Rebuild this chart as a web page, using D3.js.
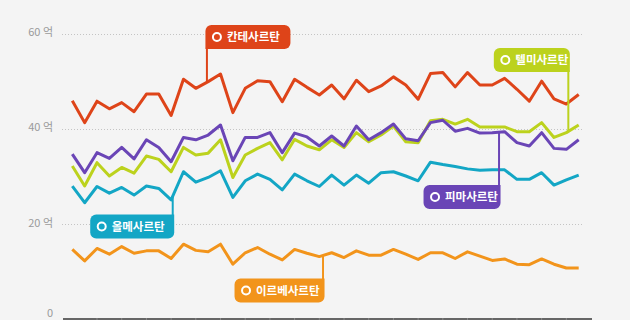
<!DOCTYPE html>
<html>

<head>
    <meta charset="utf-8">
    <script src="https://d3js.org/d3.v7.min.js" charset="utf-8"></script>
    <style>
        body { margin: 0; background: #f4f4f4; }
        svg { display: block; font-family: "Noto Sans CJK KR", "Noto Sans", sans-serif; }
    </style>
</head>

<body>
    <div id="chart_container"></div>
    <script>
        // series values (억), 42 periods each
        var kante = [45.9, 41.3, 45.8, 44.2, 45.5, 43.6, 47.3, 47.3, 42.8, 50.4, 48.5, 49.9, 51.5, 43.4, 48.5, 50.1, 49.9, 45.7, 50.4, 48.7, 47.1,
            49.2, 46.3, 50.2, 47.8, 49.0, 50.9, 49.2, 46.2, 51.6, 51.8, 48.8, 51.8, 49.2, 49.2, 50.6, 48.3, 45.8, 50.0, 46.3, 45.2, 47.2];
        var pima = [34.7, 30.8, 35.0, 33.8, 36.1, 33.7, 37.7, 36.1, 33.1, 38.2, 37.7, 38.7, 40.8, 33.3, 38.2, 38.2, 39.2, 35.0, 39.1, 38.3, 36.4,
            38.5, 36.4, 40.6, 37.7, 39.2, 41.0, 37.9, 37.5, 41.3, 41.8, 39.5, 40.1, 39.1, 39.2, 39.4, 37.1, 36.4, 39.2, 35.9, 35.7, 37.7];
        var telmi = [32.2, 28.0, 32.9, 30.1, 31.9, 30.7, 34.3, 33.6, 31.0, 36.1, 34.5, 34.9, 37.7, 29.8, 34.5, 35.9, 37.1, 33.5, 37.8, 36.4, 35.6,
            37.7, 36.1, 39.2, 37.3, 38.7, 40.6, 37.3, 37.1, 41.7, 42.0, 41.0, 42.0, 40.4, 40.4, 40.4, 39.4, 39.4, 41.3, 38.2, 39.2, 40.8];
        var olme = [28.0, 24.5, 27.9, 26.5, 27.7, 26.1, 28.0, 27.5, 25.1, 31.0, 28.8, 29.8, 31.2, 25.6, 29.1, 30.5, 29.4, 27.2, 30.5, 29.1, 27.9,
            30.3, 28.2, 30.3, 28.6, 30.8, 31.0, 30.1, 29.1, 33.0, 32.5, 32.1, 31.6, 31.3, 31.4, 31.4, 29.4, 29.4, 30.8, 28.2, 29.3, 30.3];
        var irbe = [14.7, 12.3, 14.9, 13.7, 15.3, 13.9, 14.4, 14.4, 12.8, 15.8, 14.5, 14.2, 15.8, 11.6, 14.0, 15.1, 13.7, 12.5, 14.7, 13.9, 13.2,
            14.0, 13.0, 14.4, 13.5, 13.5, 14.7, 13.7, 12.6, 14.0, 14.0, 12.8, 14.2, 13.3, 12.4, 12.7, 11.6, 11.5, 12.7, 11.6, 10.8, 10.8];

        var names = ['칸테사르탄', '피마사르탄', '텔미사르탄', '올메사르탄', '이르베사르탄'];
        var colors = ['#de4419', '#6a45b6', '#bcd21d', '#13a6c5', '#f2941b'];
        var yTicks = [0, 20, 40, 60];
        var yTickLabels = ['0', '20 억', '40 억', '60 억'];

        // label boxes: where the leader hits the line (period index), which corner the leader leaves from
        var labelSpots = [
            { s: 0, at: 10.9, corner: 'bl', top: 25, w: 85 },
            { s: 1, at: 34.55, corner: 'tr', top: 185, w: 77 },
            { s: 2, at: 40.16, corner: 'br', top: 48, w: 76 },
            { s: 3, at: 8.13, corner: 'tr', top: 214.5, w: 84 },
            { s: 4, at: 20.3, corner: 'tr', top: 278.5, w: 90 }
        ];

        var series = [kante, pima, telmi, olme, irbe];

        var width = 630,
            height = 320;

        var svg = d3.select('#chart_container')
            .append('svg')
            .attr('width', width)
            .attr('height', height);

        svg.append('rect')
            .attr('width', width)
            .attr('height', height)
            .attr('fill', '#f4f4f4');

        var x = d3.scaleLinear().domain([0, kante.length - 1]).range([72.3, 578.7]);
        var y = d3.scaleLinear().domain([0, 60]).range([319.5, 33.5]);

        // dotted grid
        svg.selectAll('.grid')
            .data(yTicks.filter(d => d > 0))
            .enter().append('line')
            .attr('class', 'grid')
            .attr('x1', 62).attr('x2', 582)
            .attr('y1', d => Math.round(y(d)) + 0.5)
            .attr('y2', d => Math.round(y(d)) + 0.5)
            .attr('stroke', '#c4c4c4')
            .attr('stroke-width', 1)
            .attr('stroke-dasharray', '1,2');

        svg.selectAll('.ylab')
            .data(yTicks)
            .enter().append('text')
            .attr('class', 'ylab')
            .attr('x', 53)
            .attr('y', (d, i) => d === 0 ? y(d) - 6 : y(d) - 1.5)
            .attr('dy', '0.35em')
            .attr('text-anchor', 'end')
            .attr('fill', '#9a9a9a')
            .attr('font-size', 11)
            .text((d, i) => yTickLabels[i]);

        // bottom axis band
        svg.append('rect')
            .attr('x', 63).attr('y', 318)
            .attr('width', 529).attr('height', 4)
            .attr('fill', '#666');
        svg.selectAll('.xtick')
            .data(d3.range(2, kante.length, 2))
            .enter().append('line')
            .attr('class', 'xtick')
            .attr('x1', d => x(d)).attr('x2', d => x(d))
            .attr('y1', 318).attr('y2', 322)
            .attr('stroke', '#8a8a8a');

        var line = d3.line()
            .x((d, i) => x(i))
            .y(d => y(d));

        // draw bottom series first so purple sits above lime
        [4, 3, 2, 1, 0].forEach(function (s) {
            svg.append('path')
                .datum(series[s])
                .attr('d', line)
                .attr('fill', 'none')
                .attr('stroke', colors[s])
                .attr('stroke-width', 3)
                .attr('stroke-linejoin', 'round');
        });

        // box with one square corner where the leader starts
        function boxPath(x0, y0, w, h, r, corner) {
            var rtl = corner === 'tl' ? 0 : r, rtr = corner === 'tr' ? 0 : r,
                rbr = corner === 'br' ? 0 : r, rbl = corner === 'bl' ? 0 : r;
            return 'M' + (x0 + rtl) + ',' + y0 +
                'H' + (x0 + w - rtr) + (rtr ? 'A' + rtr + ',' + rtr + ' 0 0 1 ' + (x0 + w) + ',' + (y0 + rtr) : '') +
                'V' + (y0 + h - rbr) + (rbr ? 'A' + rbr + ',' + rbr + ' 0 0 1 ' + (x0 + w - rbr) + ',' + (y0 + h) : '') +
                'H' + (x0 + rbl) + (rbl ? 'A' + rbl + ',' + rbl + ' 0 0 1 ' + x0 + ',' + (y0 + h - rbl) : '') +
                'V' + (y0 + rtl) + (rtl ? 'A' + rtl + ',' + rtl + ' 0 0 1 ' + (x0 + rtl) + ',' + y0 : '') + 'Z';
        }

        var boxH = 24;
        labelSpots.forEach(function (l) {
            var vals = series[l.s];
            var i0 = Math.floor(l.at), t = l.at - i0;
            var v = vals[i0] + (vals[Math.min(i0 + 1, vals.length - 1)] - vals[i0]) * t;
            var ax = x(l.at), ay = y(v);
            var left = (l.corner === 'bl' || l.corner === 'tl') ? ax - 1.5 : ax - l.w + 1.5;
            var bottom = l.top + boxH;
            var g = svg.append('g');

            g.append('line')
                .attr('x1', ax).attr('x2', ax)
                .attr('y1', l.corner[0] === 'b' ? bottom - 2 : l.top + 2)
                .attr('y2', ay)
                .attr('stroke', colors[l.s])
                .attr('stroke-width', 2);

            g.append('path')
                .attr('d', boxPath(left, l.top, l.w, boxH, 6, l.corner))
                .attr('fill', colors[l.s]);

            g.append('circle')
                .attr('cx', left + 11.5)
                .attr('cy', l.top + boxH / 2)
                .attr('r', 4)
                .attr('fill', 'none')
                .attr('stroke', '#fff')
                .attr('stroke-width', 2);

            g.append('text')
                .attr('x', left + 21.5)
                .attr('y', l.top + boxH / 2)
                .attr('dy', '0.36em')
                .attr('fill', '#fff')
                .attr('font-size', 11.5)
                .attr('font-weight', 'bold')
                .text(names[l.s]);
        });
    </script>
</body>

</html>
